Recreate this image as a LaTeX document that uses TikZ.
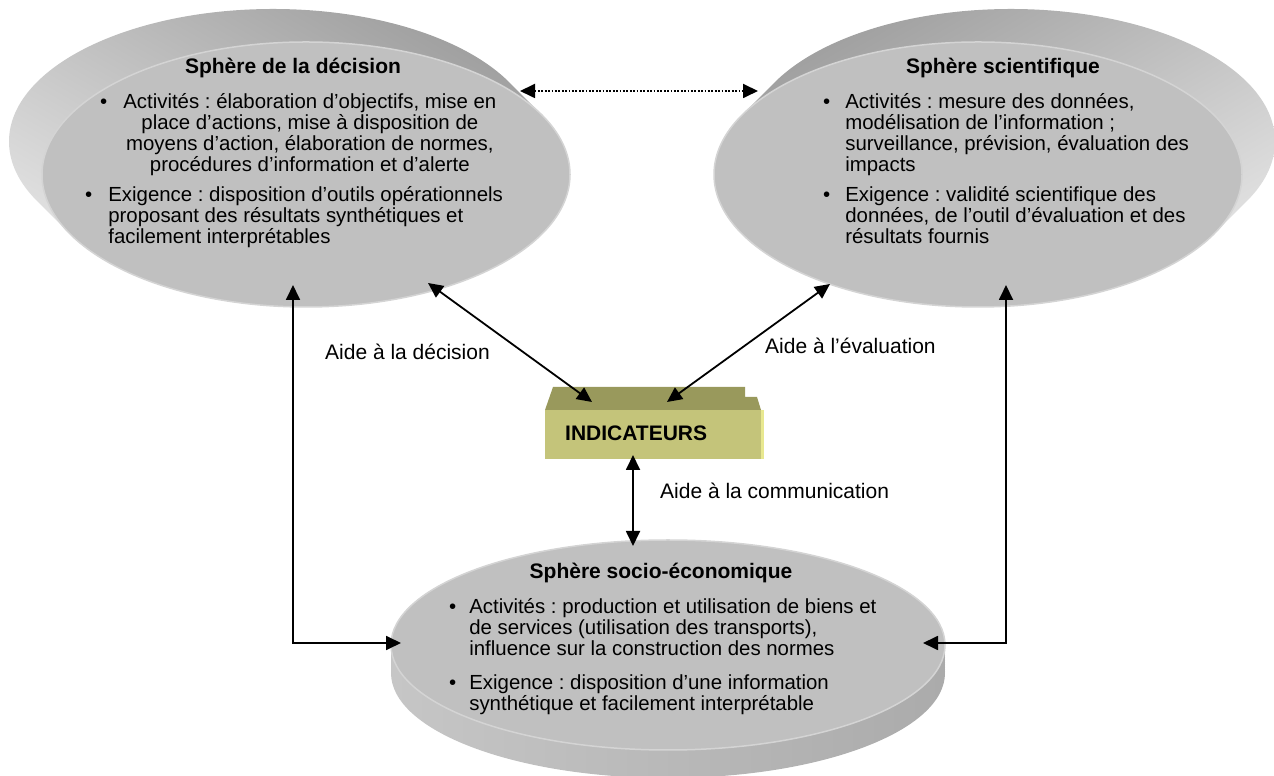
\documentclass[tikz,border=0pt]{standalone}
\usepackage{fontspec}
\setmainfont{Liberation Sans}
\usetikzlibrary{arrows.meta,shapes.geometric}
\frenchspacing
\definecolor{face}{HTML}{C0C0C0}
\definecolor{faceedge}{HTML}{D4D4D4}
\definecolor{rimdark}{HTML}{9E9E9E}
\definecolor{rimlight}{HTML}{E4E4E4}
\definecolor{rimmidA}{HTML}{C6C6C6}
\definecolor{rimmidB}{HTML}{ABABAB}
\definecolor{indfront}{HTML}{C4C47A}
\definecolor{indtop}{HTML}{99995C}
\definecolor{indedge}{HTML}{E8E890}
\begin{document}
\frenchspacing
\begin{tikzpicture}[x=1pt,y=1pt,
  conn/.style={line width=1.8pt,{Triangle[length=15pt,width=14pt]}-{Triangle[length=15pt,width=14pt]}},
  dotconn/.style={line width=1.8pt,dash pattern=on 1.8pt off 1.6pt,{Triangle[length=15pt,width=14pt]}-{Triangle[length=15pt,width=14pt]}},
  sphereface/.style={ellipse,fill=face,draw=faceedge,line width=1.5pt,inner sep=0pt,minimum width=#1},
  titletext/.style={anchor=base,inner sep=0pt,font=\fontsize{21}{22}\selectfont\bfseries},
  bodytext/.style={anchor=base west,inner sep=0pt,font=\fontsize{20.4}{19.8}\selectfont\frenchspacing},
  labeltext/.style={anchor=base west,inner sep=0pt,font=\fontsize{21}{22}\selectfont}]
\useasboundingbox (0,0) rectangle (1274,776);
% ---------- Sphère de la décision ----------
\shade[top color=rimdark,bottom color=rimlight,shading angle=-30]
  foreach \t in {0,...,24} {({273+33*\t/24},{634.5-33*\t/24}) ellipse [x radius=264,y radius=132.5]};
\node[sphereface=528pt,minimum height=265pt] (dec) at (306,601.5) {};
\node[titletext] (decT) at (293,702) {Sphère de la décision};
\node[bodytext] (decA) at (100,667) {\begin{tabular}[t]{@{}l@{\hspace{16pt}}c@{}}
\textbullet & Activités : élaboration d’objectifs, mise en\\
 & place d’actions, mise à disposition de\\
 & moyens d’action, élaboration de normes,\\
 & procédures d’information et d’alerte\end{tabular}};
\node[bodytext] (decE) at (85,574) {\begin{tabular}[t]{@{}l@{\hspace{16pt}}l@{}}
\textbullet & Exigence : disposition d’outils opérationnels\\
 & proposant des résultats synthétiques et\\
 & facilement interprétables\end{tabular}};
% ---------- Sphère scientifique ----------
\shade[top color=rimdark,bottom color=rimlight,shading angle=30]
  foreach \t in {0,...,24} {({1011-33*\t/24},{634.5-33*\t/24}) ellipse [x radius=264,y radius=132.5]};
\node[sphereface=528pt,minimum height=265pt] (sci) at (978,601.5) {};
\node[titletext] (sciT) at (1003,702) {Sphère scientifique};
\node[bodytext] (sciA) at (823,667) {\begin{tabular}[t]{@{}l@{\hspace{15pt}}l@{}}
\textbullet & Activités : mesure des données,\\
 & modélisation de l’information ;\\
 & surveillance, prévision, évaluation des\\
 & impacts\end{tabular}};
\node[bodytext] (sciE) at (823,574) {\begin{tabular}[t]{@{}l@{\hspace{15pt}}l@{}}
\textbullet & Exigence : validité scientifique des\\
 & données, de l’outil d’évaluation et des\\
 & résultats fournis\end{tabular}};
% ---------- Sphère socio-économique ----------
\shade[left color=rimmidA,right color=rimmidB]
  foreach \t in {0,...,16} {(668,{103+28*\t/16}) ellipse [x radius=277,y radius=105]};
\node[sphereface=554pt,minimum height=210pt] (soc) at (668,131) {};
\node[titletext] (socT) at (661,197) {Sphère socio-économique};
\node[bodytext] (socA) at (449,162) {\begin{tabular}[t]{@{}l@{\hspace{13pt}}l@{}}
\textbullet & Activités : production et utilisation de biens et\\
 & de services (utilisation des transports),\\
 & influence sur la construction des normes\end{tabular}};
\node[bodytext] (socE) at (449,86) {\begin{tabular}[t]{@{}l@{\hspace{13pt}}l@{}}
\textbullet & Exigence : disposition d’une information\\
 & synthétique et facilement interprétable\end{tabular}};
% ---------- INDICATEURS ----------
\fill[indtop] (545,366) -- (553,389) -- (745,389) -- (745,379) -- (757,379) -- (761,366) -- cycle;
\node[fill=indfront,inner sep=0pt,minimum width=216pt,minimum height=49pt] (ind) at (653,341.5) {};
\fill[indedge] (ind.north east) rectangle ([xshift=3pt]ind.south east);
\node[anchor=base west,inner sep=0pt,font=\fontsize{21}{22}\selectfont\bfseries] (indT) at (565,335) {INDICATEURS};
% ---------- connector end points ----------
\coordinate (decB) at (428,493);
\coordinate (indL) at (592,374);
\coordinate (sciB) at (830,492);
\coordinate (indR) at (667,374);
\coordinate (indB) at (633,321);
\coordinate (socTop) at (633,230);
\coordinate (decS) at (293,491);
\coordinate (socW) at (401,133);
\coordinate (sciS) at (1006,491);
\coordinate (socE2) at (923,133);
\coordinate (decE2) at (520,685);
\coordinate (sciW) at (758,685);
% ---------- connectors ----------
\draw[dotconn] (decE2) -- (sciW);
\draw[conn] (decB) -- (indL);
\draw[conn] (sciB) -- (indR);
\draw[conn] (indB) -- (socTop);
\draw[conn] (decS) |- (socW);
\draw[conn] (sciS) |- (socE2);
% ---------- labels ----------
\node[labeltext] (lab1) at (325,416) {Aide à la décision};
\node[labeltext] (lab2) at (765,422) {Aide à l’évaluation};
\node[labeltext] (lab3) at (660,277) {Aide à la communication};
\end{tikzpicture}
\end{document}
